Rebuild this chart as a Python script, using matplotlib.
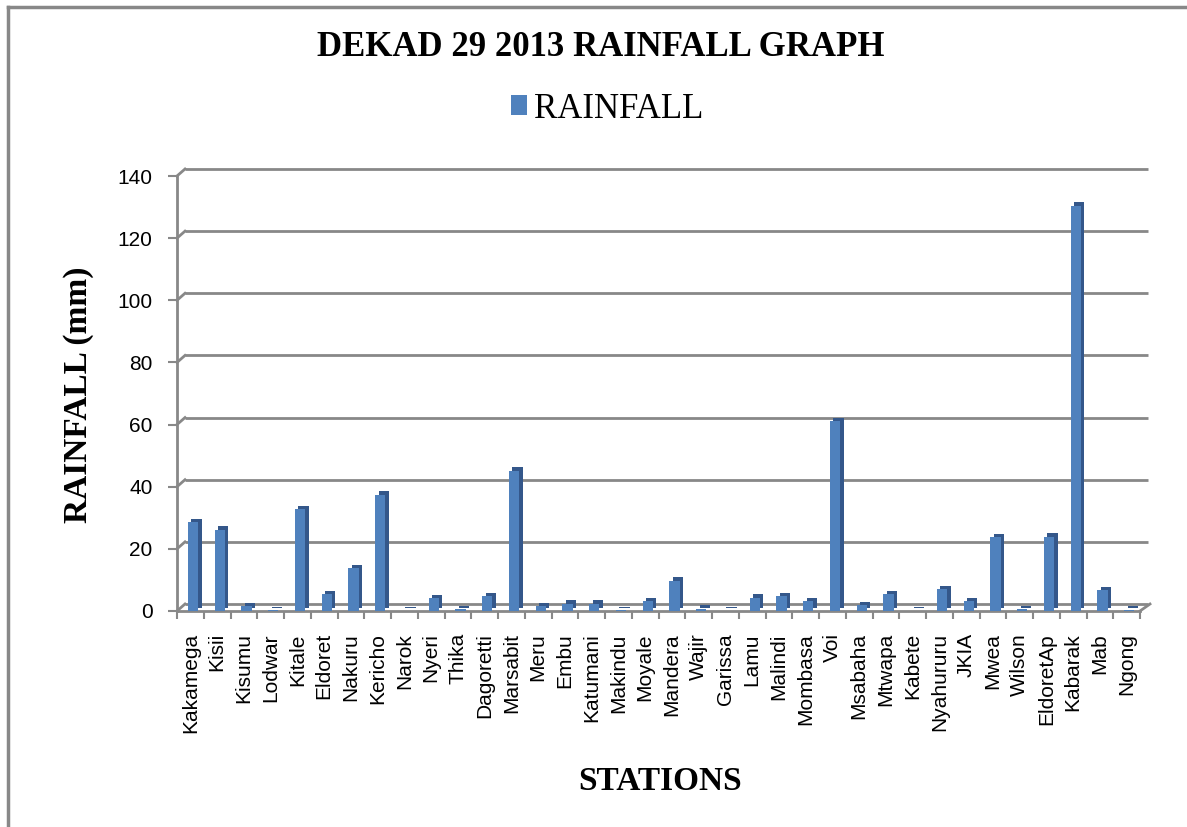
"""Recreate the DEKAD 29 2013 rainfall bar chart (Excel-style pseudo 3D)."""

import matplotlib
matplotlib.use("Agg")
import matplotlib.pyplot as plt
import matplotlib.transforms as mtransforms
from matplotlib.lines import Line2D
from matplotlib.patches import Patch
import numpy as np


# Data
STATIONS = [
    "Kakamega", "Kisii", "Kisumu", "Lodwar", "Kitale", "Eldoret", "Nakuru",
    "Kericho", "Narok", "Nyeri", "Thika", "Dagoretti", "Marsabit", "Meru",
    "Embu", "Katumani", "Makindu", "Moyale", "Mandera", "Wajir", "Garissa",
    "Lamu", "Malindi", "Mombasa", "Voi", "Msabaha", "Mtwapa", "Kabete",
    "Nyahururu", "JKIA", "Mwea", "Wilson", "EldoretAp", "Kabarak", "Mab",
    "Ngong",
]
RAINFALL = [
    28.6, 26.2, 1.5, 0.2, 32.8, 5.4, 13.8,
    37.4, 0.1, 4.1, 0.6, 4.7, 45.1, 1.6,
    2.4, 2.4, 0.2, 3.1, 9.7, 0.8, 0.1,
    4.3, 4.7, 3.2, 61.0, 1.8, 5.4, 0.1,
    7.0, 3.2, 23.8, 0.5, 23.9, 130.5, 6.7,
    0.4,
]
Y_TICKS = [0, 20, 40, 60, 80, 100, 120, 140]

# Colours
FRONT = "#4f81bd"
SIDE = "#34578a"
GRID = "#888888"
SERIF = "Liberation Serif"
SANS = "Liberation Sans"

W, H, DPI = 1187, 827, 100


def main():
    fig = plt.figure(figsize=(W / DPI, H / DPI), dpi=DPI, facecolor="white")
    ax = fig.add_axes([177 / W, 1 - 611 / H, (1140 - 177) / W, (611 - 176) / H])
    ax.set_facecolor("none")

    x = np.arange(len(STATIONS))
    ax.set_xlim(-0.5, len(STATIONS) - 0.5)
    ax.set_ylim(0, 140)

    # back-wall offset used for the fake depth
    depth = mtransforms.ScaledTranslation(8 / DPI, 7 / DPI, fig.dpi_scale_trans)
    bar_depth = mtransforms.ScaledTranslation(3.5 / DPI, 3.5 / DPI, fig.dpi_scale_trans)

    # gridlines on the back wall
    ax.hlines(Y_TICKS, -0.5, len(STATIONS) - 0.5, colors=GRID, linewidth=2,
              transform=ax.transData + depth, clip_on=False, zorder=1)
    # small diagonals joining the axis to the back wall
    for v in Y_TICKS:
        px, py = ax.transData.transform((-0.5, v))
        ax.add_line(Line2D([px, px + 8], [py, py + 7], color=GRID, linewidth=2,
                           transform=mtransforms.IdentityTransform(), clip_on=False))
    px, py = ax.transData.transform((len(STATIONS) - 0.5, 0))
    ax.add_line(Line2D([px, px + 10], [py, py + 7], color=GRID, linewidth=2,
                       transform=mtransforms.IdentityTransform(), clip_on=False))

    # bars: darker copy behind gives side + top faces
    ax.bar(x + 0.1, RAINFALL, width=0.38, color=SIDE, linewidth=0,
           transform=ax.transData + bar_depth, zorder=2, clip_on=False)
    ax.bar(x + 0.1, RAINFALL, width=0.38, color=FRONT, linewidth=0, zorder=3,
           clip_on=False)

    # axes styling
    for side in ("top", "right"):
        ax.spines[side].set_visible(False)
    for side in ("left", "bottom"):
        ax.spines[side].set_color(GRID)
        ax.spines[side].set_linewidth(2)

    ax.set_yticks(Y_TICKS)
    ax.set_yticklabels([str(v) for v in Y_TICKS], fontsize=15, family=SANS)
    ax.tick_params(axis="y", direction="out", length=6.5, width=1.5, color=GRID, pad=11)

    ax.set_xticks(x)
    ax.set_xticklabels(STATIONS, rotation=90, fontsize=15, family=SANS)
    ax.tick_params(axis="x", which="major", length=0, pad=16)
    ax.set_xticks(np.arange(len(STATIONS) + 1) - 0.5, minor=True)
    ax.tick_params(axis="x", which="minor", direction="out", length=6, width=1.5, color=GRID)

    # texts
    fig.text(601 / W, 1 - 47 / H, "DEKAD 29 2013 RAINFALL GRAPH", ha="center", va="center",
             fontsize=25, fontweight="bold", family=SERIF)
    fig.text(79 / W, 1 - 395 / H, "RAINFALL (mm)", ha="center", va="center", rotation=90,
             fontsize=24, fontweight="bold", family=SERIF)
    fig.text(660 / W, 1 - 781 / H, "STATIONS", ha="center", va="center",
             fontsize=24, fontweight="bold", family=SERIF)

    fig.legend(handles=[Patch(facecolor=FRONT, edgecolor="none", label="RAINFALL")],
               loc="center", bbox_to_anchor=(607 / W, 1 - 109 / H), frameon=False,
               prop={"family": SERIF, "size": 25}, handlelength=0.45, handleheight=0.5,
               handletextpad=0.2)

    # chart-area border (left and top edges visible)
    fig.add_artist(Line2D([8 / W, 8 / W], [0, 1 - 7 / H], color=GRID, linewidth=2.5,
                          transform=fig.transFigure))
    fig.add_artist(Line2D([8 / W, 1], [1 - 7 / H, 1 - 7 / H], color=GRID, linewidth=2.5,
                          transform=fig.transFigure))

    fig.savefig("out.png", dpi=DPI, facecolor="white")
    plt.close(fig)


if __name__ == "__main__":
    main()
